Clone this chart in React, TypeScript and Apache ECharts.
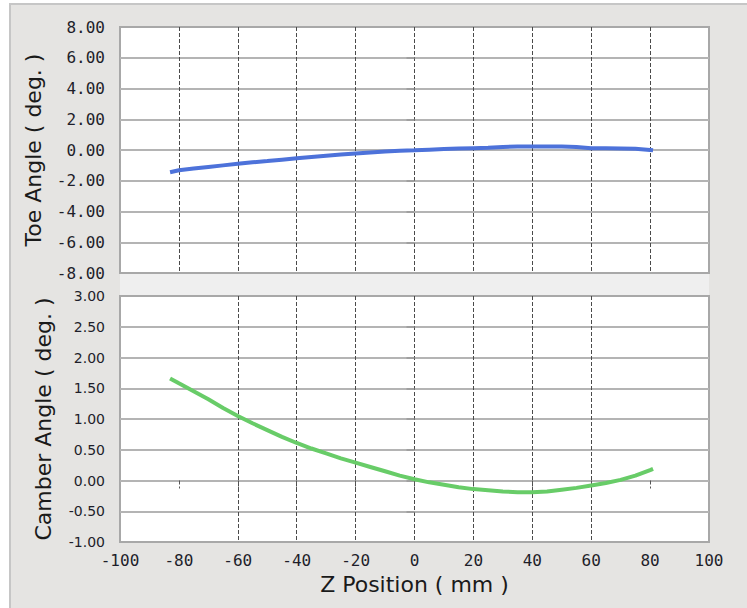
import React, { useEffect, useRef } from "react";
import * as echarts from "echarts";

const zPos = [-83, -80, -75, -70, -65, -60, -55, -50, -45, -40, -35, -30, -25, -20, -15, -10, -5, 0, 5, 10, 15, 20, 25, 30, 35, 40, 45, 50, 55, 60, 65, 70, 75, 80, 81];
const toeAngle = [-1.45, -1.32, -1.2, -1.1, -1.0, -0.9, -0.8, -0.72, -0.63, -0.54, -0.46, -0.38, -0.3, -0.22, -0.16, -0.1, -0.05, -0.02, 0.02, 0.06, 0.1, 0.12, 0.14, 0.2, 0.22, 0.22, 0.22, 0.22, 0.2, 0.12, 0.12, 0.1, 0.08, 0.0, -0.02];
const camberAngle = [1.66, 1.58, 1.45, 1.32, 1.18, 1.05, 0.93, 0.82, 0.71, 0.61, 0.52, 0.44, 0.36, 0.29, 0.22, 0.15, 0.08, 0.02, -0.03, -0.07, -0.11, -0.14, -0.16, -0.18, -0.19, -0.19, -0.18, -0.15, -0.12, -0.08, -0.04, 0.01, 0.08, 0.17, 0.19];
const xInnerTicks = [-80, -60, -40, -20, 0, 20, 40, 60, 80];
const toeInnerTicks = [-6, -4, -2, 0, 2, 4, 6];
const camberInnerTicks = [-0.5, 0, 0.5, 1, 1.5, 2, 2.5];

const MONO = "DejaVu Sans Mono";
const SANS = "DejaVu Sans";
const TEXT = "#1e1e2a";

export default function App() {
  const ref = useRef<HTMLDivElement>(null);
  useEffect(() => {
    if (!ref.current) return;
    const chart = echarts.init(ref.current, null, { renderer: "svg" });
    const toeData = zPos.map((z, i) => [z, toeAngle[i]]);
    const camberData = zPos.map((z, i) => [z, camberAngle[i]]);
    const xCommon = (gridIndex: number, showLabels: boolean) => ({
      type: "value",
      gridIndex,
      min: -100,
      max: 100,
      interval: 20,
      axisLine: { show: false },
      axisTick: showLabels
        ? { show: true, length: 8, customValues: xInnerTicks, lineStyle: { color: "#555", type: [4, 2], width: 1 } }
        : { show: false },
      axisLabel: showLabels
        ? { show: true, margin: 10, fontFamily: MONO, fontSize: 16, lineHeight: 16, color: TEXT }
        : { show: false },
      splitLine: {
        show: true,
        showMinLine: false,
        showMaxLine: false,
        lineStyle: { color: "#4a4a4a", type: [4, 2], width: 1 },
      },
      name: showLabels ? "Z Position ( mm )" : "",
      nameLocation: "middle",
      nameGap: 31,
      nameTextStyle: { fontFamily: SANS, fontSize: 22, color: "#1a1a1a" },
    });
    chart.setOption({
      animation: false,
      backgroundColor: "#ffffff",
      graphic: [
        {
          type: "rect",
          z: -10,
          shape: { x: 10, y: 4, width: 745, height: 610 },
          style: { fill: "#e5e4e2", stroke: "#c6c6c6", lineWidth: 2 },
          silent: true,
        },
        {
          type: "rect",
          z: -9,
          shape: { x: 120, y: 273, width: 589, height: 23 },
          style: { fill: "#efefef" },
          silent: true,
        },
      ],
      grid: [
        { left: 120, top: 27, width: 589, height: 246, show: true, backgroundColor: "#ffffff", borderColor: "#a8a8a8", borderWidth: 2 },
        { left: 120, top: 296, width: 589, height: 246, show: true, backgroundColor: "#ffffff", borderColor: "#a8a8a8", borderWidth: 2 },
      ],
      xAxis: [xCommon(0, false), xCommon(1, true)],
      yAxis: [
        {
          type: "value",
          gridIndex: 0,
          min: -8,
          max: 8,
          interval: 2,
          axisLine: { show: false },
          axisTick: { show: true, length: 8, customValues: toeInnerTicks, lineStyle: { color: "#a0a0a0", width: 2 } },
          axisLabel: { margin: 15, fontFamily: MONO, fontSize: 16, color: TEXT, formatter: (v: number) => v.toFixed(2) },
          splitLine: { show: true, lineStyle: { color: "#b4b4b4", width: 2 } },
          name: "Toe Angle ( deg. )",
          nameLocation: "middle",
          nameGap: 87,
          nameRotate: 90,
          nameTextStyle: { fontFamily: SANS, fontSize: 22, color: "#1a1a1a", verticalAlign: "middle" },
        },
        {
          type: "value",
          gridIndex: 1,
          min: -1,
          max: 3,
          interval: 0.5,
          axisLine: { show: false },
          axisTick: { show: true, length: 8, customValues: camberInnerTicks, lineStyle: { color: "#a0a0a0", width: 2 } },
          axisLabel: { margin: 15, fontFamily: SANS, fontSize: 14, color: TEXT, formatter: (v: number) => v.toFixed(2) },
          splitLine: { show: true, lineStyle: { color: "#b4b4b4", width: 2 } },
          name: "Camber Angle ( deg. )",
          nameLocation: "middle",
          nameGap: 77,
          nameRotate: 90,
          nameTextStyle: { fontFamily: SANS, fontSize: 22, color: "#1a1a1a", verticalAlign: "middle" },
        },
      ],
      series: [
        {
          type: "line",
          xAxisIndex: 0,
          yAxisIndex: 0,
          data: toeData,
          showSymbol: false,
          lineStyle: { color: "#4d72da", width: 4 },
          z: 5,
        },
        {
          type: "line",
          xAxisIndex: 1,
          yAxisIndex: 1,
          data: camberData,
          showSymbol: false,
          lineStyle: { color: "#68cc68", width: 4 },
          z: 5,
        },
      ],
    });
    return () => chart.dispose();
  }, []);
  return (
    <div
      ref={ref}
      style={{ position: "fixed", left: 0, top: 0, width: 747, height: 608 }}
    />
  );
}
